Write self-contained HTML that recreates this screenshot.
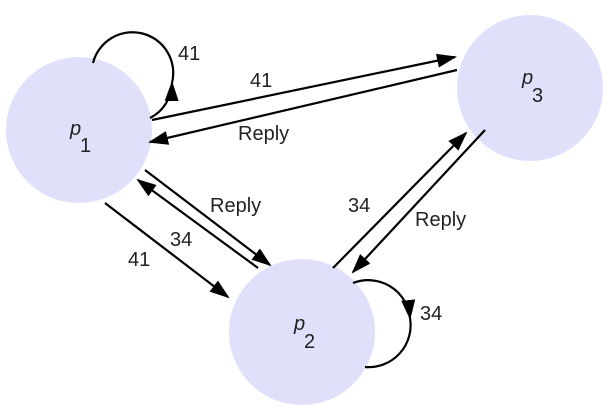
<!DOCTYPE html>
<html><head><style>body{margin:0;background:#fff}svg{display:block}text{font-family:"Liberation Sans",sans-serif;font-size:20px;fill:#222}</style></head>
<body>
<svg width="612" height="410" viewBox="0 0 612 410">
<defs>
<marker id="b" markerWidth="20" markerHeight="14" refX="18" refY="7" orient="auto" markerUnits="userSpaceOnUse" viewBox="0 0 20 14"><path d="M0,0L20,7L0,14z" fill="#000"/></marker></defs>
<circle cx="79" cy="130" r="73" fill="#e0e0fa"/>
<circle cx="530" cy="88" r="73" fill="#e0e0fa"/>
<circle cx="302" cy="332" r="73" fill="#e0e0fa"/>
<g stroke="#000" stroke-width="2.2" fill="none">
<path d="M150,118 A40,40 0 0 0 172,83" marker-end="url(#b)"/>
<path d="M172,83 A40,40 0 0 0 93,63"/>
<path d="M353,283 A42,42 0 0 1 410,318" marker-end="url(#b)"/>
<path d="M410,318 A42,42 0 0 1 365,367"/>
<line x1="152" y1="120" x2="455" y2="57" marker-end="url(#b)"/>
<line x1="457" y1="70" x2="150" y2="142" marker-end="url(#b)"/>
<line x1="105" y1="203" x2="228" y2="297" marker-end="url(#b)"/>
<line x1="258" y1="268" x2="138" y2="180" marker-end="url(#b)"/>
<line x1="145" y1="170" x2="270" y2="265" marker-end="url(#b)"/>
<line x1="333" y1="268" x2="466" y2="133" marker-end="url(#b)"/>
<line x1="485" y1="130" x2="353" y2="272" marker-end="url(#b)"/>
</g>
<text x="178" y="60">41</text>
<text x="250" y="87">41</text>
<text x="238" y="140">Reply</text>
<text x="210" y="212">Reply</text>
<text x="170" y="246">34</text>
<text x="128" y="266">41</text>
<text x="348" y="212">34</text>
<text x="415" y="226">Reply</text>
<text x="420" y="320">34</text>
<text x="70" y="135" font-style="italic">p</text><text x="80" y="152" font-size="16">1</text>
<text x="522" y="84" font-style="italic">p</text><text x="532" y="102" font-size="16">3</text>
<text x="294" y="330" font-style="italic">p</text><text x="304" y="348" font-size="16">2</text>
</svg>
</body></html>
